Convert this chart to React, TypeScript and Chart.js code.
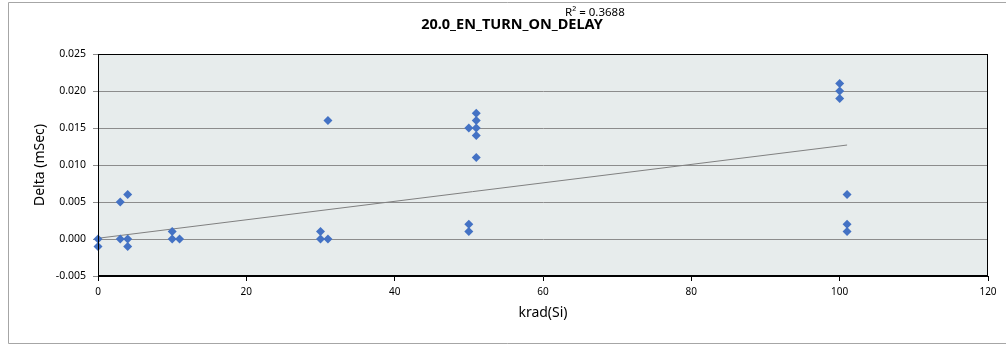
import React, { useEffect, useRef } from "react";
import { Chart, registerables } from "chart.js";

Chart.register(...registerables);

const xValues = [0, 0, 3, 3, 4, 4, 4, 10, 10, 11, 30, 30, 31, 31, 50, 50, 50, 51, 51, 51, 51, 51, 100, 100, 100, 101, 101, 101];
const yValues = [0, -0.001, 0.005, 0, 0.006, 0, -0.001, 0.001, 0, 0, 0.001, 0, 0.016, 0, 0.015, 0.002, 0.001, 0.017, 0.016, 0.015, 0.014, 0.011, 0.021, 0.02, 0.019, 0.006, 0.002, 0.001];
const trendX = [0, 101];
const trendY = [0.0001, 0.0127];
const titleText = "20.0_EN_TURN_ON_DELAY";
const r2Text = "R² = 0.3688";
const xTitle = "krad(Si)";
const yTitle = "Delta (mSec)";

const FONT = "'Noto Sans', 'Open Sans', sans-serif";

const decorPlugin = {
  id: "decor",
  beforeDraw(chart: any) {
    const { ctx, chartArea } = chart;
    ctx.save();
    ctx.fillStyle = "#ffffff";
    ctx.fillRect(0, 0, chart.width, chart.height);
    ctx.fillStyle = "#e7ecec";
    ctx.fillRect(chartArea.left, chartArea.top, chartArea.right - chartArea.left, chartArea.bottom - chartArea.top);
    ctx.strokeStyle = "#a6a6a6";
    ctx.lineWidth = 1;
    ctx.beginPath();
    ctx.moveTo(8.5, 343.5);
    ctx.lineTo(8.5, 2.5);
    ctx.lineTo(1006, 2.5);
    ctx.moveTo(8.5, 343.5);
    ctx.lineTo(1006, 343.5);
    ctx.stroke();
    ctx.restore();
  },
  afterDatasetsDraw(chart: any) {
    const { ctx, chartArea } = chart;
    ctx.save();
    ctx.strokeStyle = "#000000";
    ctx.lineWidth = 1;
    ctx.strokeRect(chartArea.left + 0.5, chartArea.top + 0.5, chartArea.right - chartArea.left - 1, chartArea.bottom - chartArea.top - 1);
    ctx.restore();
  },
  afterDraw(chart: any) {
    const { ctx, chartArea } = chart;
    ctx.save();
    ctx.fillStyle = "#000000";
    ctx.textBaseline = "middle";
    ctx.textAlign = "center";
    ctx.font = `bold 14.5px ${FONT}`;
    ctx.fillText(titleText, 512, 25);
    ctx.textAlign = "left";
    ctx.font = `11.5px ${FONT}`;
    ctx.fillText(r2Text, 565, 13);
    ctx.textAlign = "center";
    ctx.font = `14px ${FONT}`;
    ctx.fillText(xTitle, (chartArea.left + chartArea.right) / 2, 313);
    ctx.translate(40, (chartArea.top + chartArea.bottom) / 2);
    ctx.rotate(-Math.PI / 2);
    ctx.fillText(yTitle, 0, 0);
    ctx.restore();
  },
};

export default function App() {
  const ref = useRef<HTMLCanvasElement>(null);
  useEffect(() => {
    if (!ref.current) return;
    const chart = new Chart(ref.current, {
      type: "scatter",
      data: {
        datasets: [
          {
            label: "data",
            data: xValues.map((x, i) => ({ x, y: yValues[i] })),
            pointStyle: "rectRot",
            pointRadius: 4.5,
            pointBackgroundColor: "#4472c4",
            pointBorderWidth: 0,
            borderWidth: 0,
            backgroundColor: "#4472c4",
            clip: false,
          } as any,
          {
            label: "trend",
            type: "line",
            data: trendX.map((x, i) => ({ x, y: trendY[i] })),
            showLine: true,
            pointRadius: 0,
            borderColor: "#808080",
            borderWidth: 1,
            fill: false,
          } as any,
        ],
      },
      options: {
        responsive: false,
        animation: false,
        layout: { padding: { left: 8, right: 18, top: 54, bottom: 0 } },
        plugins: { legend: { display: false }, tooltip: { enabled: false }, title: { display: false } },
        scales: {
          x: {
            type: "linear",
            min: 0,
            max: 120,
            ticks: { stepSize: 20, color: "#000", font: { family: FONT, size: 10 }, padding: 5, maxRotation: 0 },
            grid: { drawOnChartArea: false, tickLength: 5, color: "#000" },
            border: { color: "#000" },
            afterFit: (s: any) => { s.height = 70; },
          },
          y: {
            min: -0.005,
            max: 0.025,
            ticks: {
              stepSize: 0.005,
              color: "#000",
              font: { family: FONT, size: 10.5 },
              padding: 7,
              callback: (v: any) => Number(v).toFixed(3),
            },
            grid: { color: "#8c8c8c", tickLength: 5 },
            border: { color: "#000" },
            afterFit: (s: any) => { s.width = 90; },
          },
        },
      },
      plugins: [decorPlugin],
    });
    return () => chart.destroy();
  }, []);
  return (
    <div style={{ position: "fixed", left: 0, top: 0, width: 1006, height: 346 }}>
      <canvas ref={ref} width={1006} height={346} style={{ width: 1006, height: 346, display: "block" }} />
    </div>
  );
}
